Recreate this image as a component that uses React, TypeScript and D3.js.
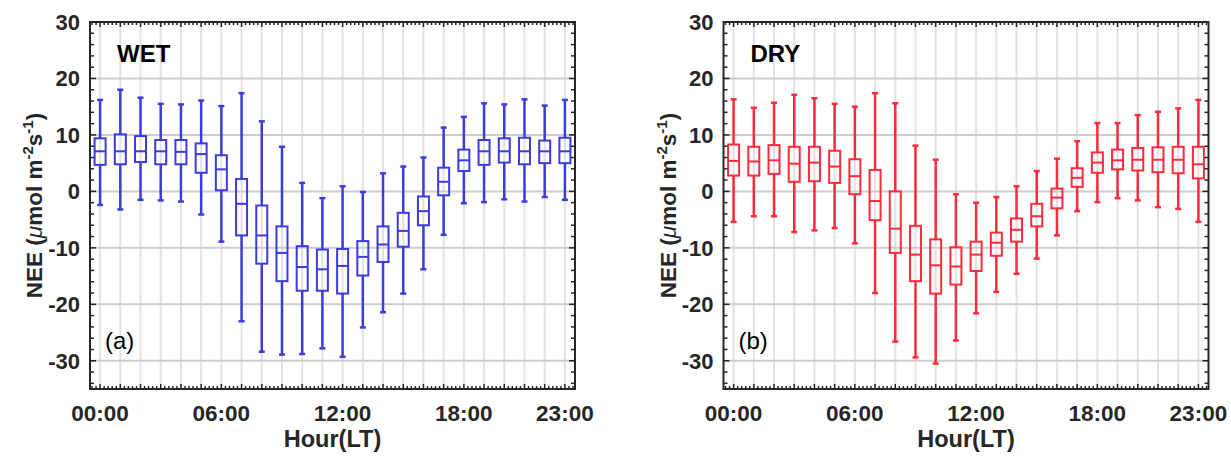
import React, { useEffect, useRef } from "react";
import * as d3 from "d3";

const hours = [0, 1, 2, 3, 4, 5, 6, 7, 8, 9, 10, 11, 12, 13, 14, 15, 16, 17, 18, 19, 20, 21, 22, 23];
const xTickHours = [0, 6, 12, 18, 23];
const xTickLabels = ["00:00", "06:00", "12:00", "18:00", "23:00"];
const yTicks = [-30, -20, -10, 0, 10, 20, 30];

// WET season
const wetUpper = [16.2, 18.0, 16.6, 15.5, 15.4, 16.1, 15.1, 17.4, 12.4, 7.9, 1.5, -1.2, 0.9, -0.1, 3.2, 4.4, 6.0, 11.3, 13.2, 15.6, 15.4, 16.3, 15.2, 16.2];
const wetQ3 = [9.4, 10.1, 9.8, 9.1, 9.1, 8.5, 6.4, 2.2, -2.5, -6.2, -9.7, -10.3, -10.2, -8.8, -6.2, -3.8, -0.9, 4.2, 7.4, 9.1, 9.4, 9.5, 9.0, 9.5];
const wetMedian = [7.1, 7.1, 7.1, 7.1, 7.0, 6.6, 3.9, -2.2, -7.8, -10.9, -13.4, -13.8, -13.2, -11.6, -9.4, -7.0, -3.5, 1.7, 5.5, 7.1, 7.1, 7.1, 7.1, 7.1];
const wetQ1 = [4.7, 4.8, 5.2, 4.8, 4.8, 3.3, 0.2, -7.8, -12.8, -15.9, -17.6, -17.6, -18.1, -14.9, -12.5, -9.8, -6.0, -0.7, 3.6, 4.7, 5.1, 4.8, 5.0, 5.0];
const wetLower = [-2.4, -3.2, -1.5, -1.6, -1.8, -4.1, -8.9, -23.0, -28.4, -28.9, -28.8, -27.8, -29.3, -24.1, -21.4, -18.1, -13.8, -7.7, -2.1, -1.9, -1.4, -1.8, -1.0, -1.5];

// DRY season
const dryUpper = [16.3, 14.8, 15.7, 17.1, 16.5, 15.5, 15.0, 17.4, 15.6, 8.1, 5.6, -0.5, -2.0, -1.0, 0.9, 3.6, 5.8, 8.9, 12.1, 12.1, 13.5, 14.1, 14.7, 16.2];
const dryQ3 = [8.3, 7.9, 8.2, 7.9, 7.9, 7.2, 5.7, 3.8, 0.0, -6.1, -8.5, -9.9, -8.9, -7.3, -4.8, -2.2, 0.5, 4.1, 6.9, 7.4, 7.7, 7.8, 7.9, 7.9];
const dryMedian = [5.4, 5.3, 5.5, 4.9, 5.1, 4.4, 2.7, -1.7, -6.6, -11.2, -13.1, -13.3, -11.2, -9.1, -6.8, -4.4, -1.1, 2.4, 5.1, 5.5, 5.6, 5.6, 5.6, 4.8];
const dryQ1 = [2.8, 2.8, 3.1, 1.7, 1.8, 1.5, -0.5, -5.1, -10.9, -15.9, -18.1, -16.5, -14.1, -11.4, -8.9, -6.2, -3.0, 0.8, 3.3, 3.9, 3.7, 3.4, 3.2, 2.3];
const dryLower = [-5.4, -4.4, -4.4, -7.2, -6.9, -6.5, -9.2, -18.0, -26.6, -29.4, -30.5, -26.4, -21.6, -17.8, -14.6, -11.9, -7.8, -3.5, -1.9, -1.2, -1.6, -2.8, -3.1, -5.4];

const FONT = "'Liberation Sans', Arial, sans-serif";
const AXIS = "#262626";

function drawPanel(g: any, left: number, upper: number[], q3: number[], med: number[], q1: number[], lower: number[], color: string, title: string, letter: string) {
  const top = 22, bottom = 389, width = 485;
  const x = d3.scaleLinear().domain([-0.5, 23.5]).range([left, left + width]);
  const y = d3.scaleLinear().domain([-35, 30]).range([bottom, top]);

  g.append("rect").attr("x", left).attr("y", top).attr("width", width).attr("height", bottom - top).attr("fill", "white");

  // grid
  g.selectAll(".vgrid").data(hours).join("line").attr("class", "vgrid")
    .attr("x1", (d: number) => x(d)).attr("x2", (d: number) => x(d)).attr("y1", top).attr("y2", bottom)
    .attr("stroke", "#e2e2e2").attr("stroke-width", 2);
  g.selectAll(".hgrid").data(yTicks).join("line").attr("class", "hgrid")
    .attr("x1", left).attr("x2", left + width).attr("y1", (d: number) => y(d)).attr("y2", (d: number) => y(d))
    .attr("stroke", "#cdcdcd").attr("stroke-width", 2);

  const bw = 11, cap = 6;
  const boxes = g.selectAll(".box").data(hours).join("g").attr("class", "box")
    .attr("stroke", color).attr("fill", "none");
  boxes.append("line").attr("x1", (d: number) => x(d)).attr("x2", (d: number) => x(d))
    .attr("y1", (d: number) => y(upper[d])).attr("y2", (d: number) => y(q3[d])).attr("stroke-width", 2.5);
  boxes.append("line").attr("x1", (d: number) => x(d)).attr("x2", (d: number) => x(d))
    .attr("y1", (d: number) => y(q1[d])).attr("y2", (d: number) => y(lower[d])).attr("stroke-width", 2.5);
  boxes.append("line").attr("x1", (d: number) => x(d) - cap / 2).attr("x2", (d: number) => x(d) + cap / 2)
    .attr("y1", (d: number) => y(upper[d])).attr("y2", (d: number) => y(upper[d])).attr("stroke-width", 2.5);
  boxes.append("line").attr("x1", (d: number) => x(d) - cap / 2).attr("x2", (d: number) => x(d) + cap / 2)
    .attr("y1", (d: number) => y(lower[d])).attr("y2", (d: number) => y(lower[d])).attr("stroke-width", 2.5);
  boxes.append("rect").attr("x", (d: number) => x(d) - bw / 2).attr("width", bw)
    .attr("y", (d: number) => y(q3[d])).attr("height", (d: number) => y(q1[d]) - y(q3[d])).attr("stroke-width", 2);
  boxes.append("line").attr("x1", (d: number) => x(d) - bw / 2).attr("x2", (d: number) => x(d) + bw / 2)
    .attr("y1", (d: number) => y(med[d])).attr("y2", (d: number) => y(med[d])).attr("stroke-width", 2);

  // ticks (inward on all four sides)
  const xMinor = d3.range(-0.4, 23.5, 0.2).filter((v) => Math.abs(v - Math.round(v)) > 0.01);
  const yMinor = d3.range(-34, 30, 2).filter((v) => v % 10 !== 0);
  const ticks = g.append("g").attr("stroke", AXIS).attr("stroke-width", 1.5);
  [[bottom, -1], [top, 1]].forEach(([yy, dir]) => {
    hours.forEach((h) => ticks.append("line").attr("x1", x(h)).attr("x2", x(h)).attr("y1", yy).attr("y2", yy + dir * 5));
    xMinor.forEach((h) => ticks.append("line").attr("x1", x(h)).attr("x2", x(h)).attr("y1", yy).attr("y2", yy + dir * 3));
  });
  [[left, 1], [left + width, -1]].forEach(([xx, dir]) => {
    yTicks.forEach((v) => ticks.append("line").attr("x1", xx).attr("x2", xx + dir * 6).attr("y1", y(v)).attr("y2", y(v)));
    yMinor.forEach((v) => ticks.append("line").attr("x1", xx).attr("x2", xx + dir * 4).attr("y1", y(v)).attr("y2", y(v)));
  });

  g.append("rect").attr("x", left).attr("y", top).attr("width", width).attr("height", bottom - top)
    .attr("fill", "none").attr("stroke", AXIS).attr("stroke-width", 2);

  // tick labels
  g.selectAll(".ylab").data(yTicks).join("text").attr("class", "ylab")
    .attr("x", left - 10).attr("y", (d: number) => y(d)).attr("dy", "0.36em")
    .attr("text-anchor", "end").attr("font-family", FONT).attr("font-weight", "bold").attr("font-size", 22)
    .attr("fill", AXIS).text((d: number) => d);
  g.selectAll(".xlab").data(xTickHours).join("text").attr("class", "xlab")
    .attr("x", (d: number) => x(d)).attr("y", 421)
    .attr("text-anchor", "middle").attr("font-family", FONT).attr("font-weight", "bold").attr("font-size", 22.5)
    .attr("fill", AXIS).text((d: number, i: number) => xTickLabels[i]);

  g.append("text").attr("x", left + width / 2).attr("y", 447).attr("text-anchor", "middle")
    .attr("font-family", FONT).attr("font-weight", "bold").attr("font-size", 23.5).attr("fill", AXIS).text("Hour(LT)");

  const yl = g.append("text").attr("transform", `translate(${left - 48},${(top + bottom) / 2}) rotate(-90)`)
    .attr("text-anchor", "middle").attr("font-family", FONT).attr("font-weight", "bold").attr("font-size", 22.5).attr("fill", AXIS);
  yl.append("tspan").text("NEE (");
  yl.append("tspan").attr("font-style", "italic").attr("font-weight", "normal").text("\u03bc");
  yl.append("tspan").text("mol m");
  yl.append("tspan").attr("font-size", 15).attr("dy", -9).text("-2");
  yl.append("tspan").attr("dy", 9).text("s");
  yl.append("tspan").attr("font-size", 15).attr("dy", -9).text("-1");
  yl.append("tspan").attr("dy", 9).text(")");

  g.append("text").attr("x", left + 27).attr("y", 62).attr("font-family", FONT).attr("font-weight", "bold")
    .attr("font-size", 24).attr("fill", "black").text(title);
  g.append("text").attr("x", left + 15).attr("y", 349).attr("font-family", FONT)
    .attr("font-size", 24).attr("fill", "black").text(letter);
}

export default function App() {
  const ref = useRef<SVGSVGElement>(null);
  useEffect(() => {
    const svg = d3.select(ref.current);
    svg.selectAll("*").remove();
    drawPanel(svg.append("g"), 90, wetUpper, wetQ3, wetMedian, wetQ1, wetLower, "#3c3cdc", "WET", "(a)");
    drawPanel(svg.append("g"), 723.5, dryUpper, dryQ3, dryMedian, dryQ1, dryLower, "#ff2a3c", "DRY", "(b)");
  }, []);
  return (
    <svg ref={ref} width={1231} height={457} style={{ position: "absolute", left: 0, top: 0, background: "white" }} />
  );
}
